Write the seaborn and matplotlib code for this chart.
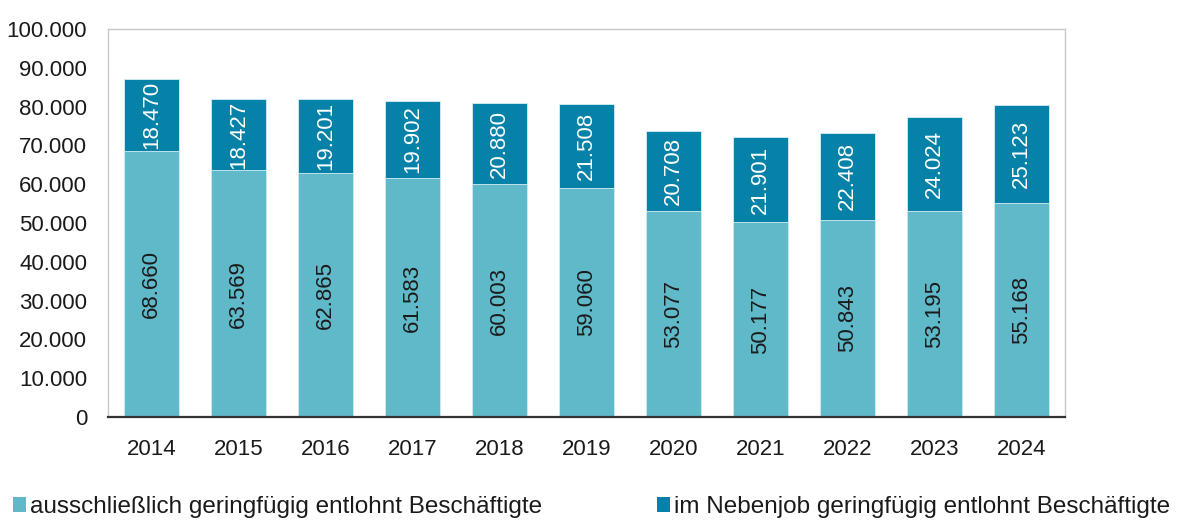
import matplotlib
matplotlib.use("Agg")
import matplotlib.pyplot as plt
from matplotlib.patches import Patch
import seaborn as sns
import pandas as pd

years = ["2014", "2015", "2016", "2017", "2018", "2019", "2020", "2021", "2022", "2023", "2024"]
ausschliesslich = [68660, 63569, 62865, 61583, 60003, 59060, 53077, 50177, 50843, 53195, 55168]
nebenjob = [18470, 18427, 19201, 19902, 20880, 21508, 20708, 21901, 22408, 24024, 25123]
y_ticks = [0, 10000, 20000, 30000, 40000, 50000, 60000, 70000, 80000, 90000, 100000]

label_a = "ausschließlich geringfügig entlohnt Beschäftigte"
label_b = "im Nebenjob geringfügig entlohnt Beschäftigte"
color_a = "#5fb9c9"
color_b = "#0681a8"

sns.set_theme(style="white")
plt.rcParams["font.family"] = ["Liberation Sans", "DejaVu Sans"]

df = pd.DataFrame({"Jahr": years, "a": ausschliesslich, "b": nebenjob})
df["gesamt"] = df["a"] + df["b"]

W, H = 1179, 523
fig = plt.figure(figsize=(W / 100, H / 100), dpi=100)
ax = fig.add_axes([108 / W, 1 - 417 / H, (1065 - 108) / W, (417 - 29) / H])

# stacked bars: total height first, lower segment drawn over it
sns.barplot(data=df, x="Jahr", y="gesamt", color=color_b, width=0.63,
            edgecolor="#d8eef3", linewidth=0.6, saturation=1, ax=ax)
sns.barplot(data=df, x="Jahr", y="a", color=color_a, width=0.63,
            edgecolor="#d8eef3", linewidth=0.6, saturation=1, ax=ax)

def fmt(v):
    return f"{v:,}".replace(",", ".")

for i, (a, b) in enumerate(zip(ausschliesslich, nebenjob)):
    ax.text(i, a / 2, fmt(a), rotation=90, ha="center", va="center",
            fontsize=16, color="#1a1a1a")
    ax.text(i, a + b / 2, fmt(b), rotation=90, ha="center", va="center",
            fontsize=16, color="white")

ax.set_ylim(0, 100000)
ax.set_xlim(-0.5, len(years) - 0.5)
ax.set_yticks(y_ticks)
ax.set_yticklabels([fmt(t) for t in y_ticks], fontsize=16, color="#1a1a1a")
ax.tick_params(axis="x", labelsize=16, colors="#1a1a1a", pad=16, length=0)
ax.tick_params(axis="y", pad=15, length=0)
ax.set_xlabel("")
ax.set_ylabel("")

for side in ["top", "left", "right"]:
    ax.spines[side].set_color("#c8c8c8")
    ax.spines[side].set_linewidth(1.0)
ax.spines["bottom"].set_color("#333333")
ax.spines["bottom"].set_linewidth(1.6)

# legend entries along the bottom edge
legend_y = 1 - 507 / H
for x_px, col, lab in [(13, color_a, label_a), (657, color_b, label_b)]:
    leg = fig.legend([Patch(facecolor=col, edgecolor="none")], [lab],
                     loc="center left", bbox_to_anchor=(x_px / W, legend_y),
                     frameon=False, fontsize=17.5, handlelength=0.55, handleheight=0.55,
                     handletextpad=0.15, borderaxespad=0, borderpad=0)
    for t in leg.get_texts():
        t.set_color("#1a1a1a")

fig.savefig("out.png", dpi=100)
